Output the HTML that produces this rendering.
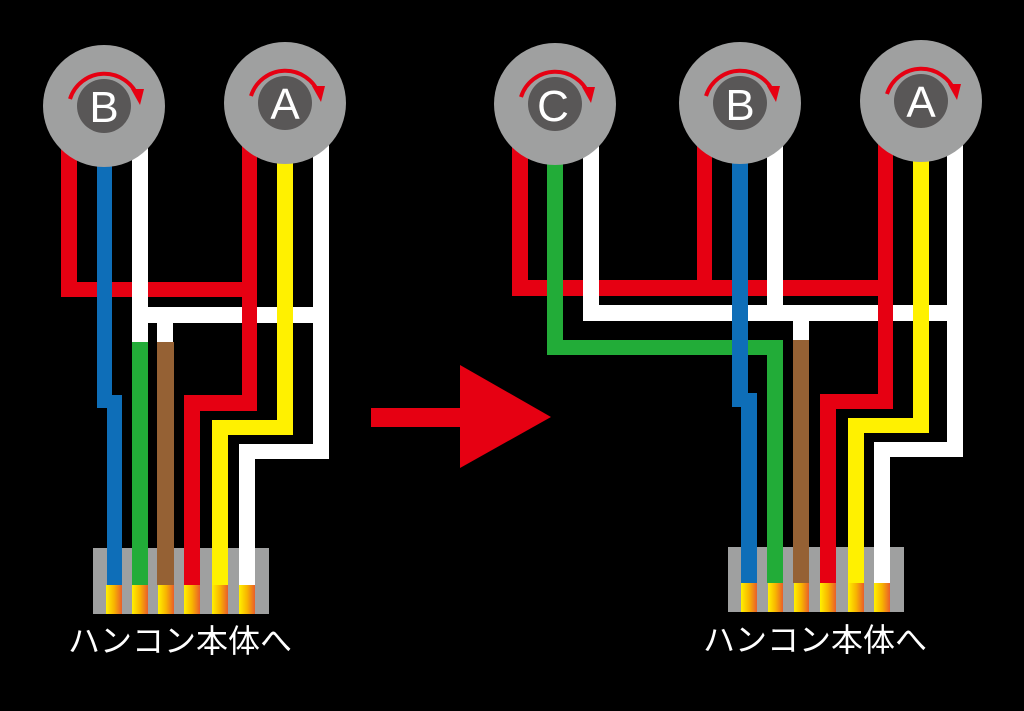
<!DOCTYPE html>
<html><head><meta charset="utf-8"><style>
html,body{margin:0;padding:0;background:#000;}
svg{display:block;}
text{font-family:"Liberation Sans","Noto Sans CJK JP",sans-serif;}
</style></head><body>
<svg width="1024" height="711" viewBox="0 0 1024 711" xmlns="http://www.w3.org/2000/svg">
<defs>
<linearGradient id="pin" x1="0" x2="1" y1="0" y2="0">
<stop offset="0" stop-color="#fff100"/><stop offset="0.5" stop-color="#f8b500"/><stop offset="1" stop-color="#e95e2a"/>
</linearGradient>
<g id="arc">
<path d="M-34,-4 A36,36 0 0 1 34,-6" fill="none" stroke="#e60012" stroke-width="4"/>
<path d="M27,-14 L40,-14 L36,2 Z" fill="#e60012"/>
</g>
</defs>
<rect width="1024" height="711" fill="#000"/>

<!-- connectors (behind wires) -->
<rect x="93" y="548" width="176" height="66" fill="#9fa0a0"/>
<rect x="728" y="547" width="176" height="65" fill="#9fa0a0"/>

<!-- LEFT -->
<g>
<rect x="61" y="282" width="196" height="15" fill="#e60012"/>
<rect x="132" y="307" width="197" height="16" fill="#fff"/>
<rect x="184" y="395" width="73" height="16" fill="#e60012"/>
<rect x="212" y="420" width="81" height="15" fill="#fff100"/>
<rect x="239" y="444" width="90" height="15" fill="#fff"/>
<rect x="61" y="140" width="16" height="157" fill="#e60012"/>
<rect x="132" y="140" width="16" height="202" fill="#fff"/>
<rect x="157" y="315" width="16" height="27" fill="#fff"/>
<rect x="132" y="342" width="16" height="243" fill="#22ac38"/>
<rect x="157" y="342" width="17" height="243" fill="#956134"/>
<rect x="242" y="140" width="15" height="271" fill="#e60012"/>
<rect x="184" y="395" width="16" height="190" fill="#e60012"/>
<rect x="313" y="140" width="16" height="319" fill="#fff"/>
<rect x="239" y="444" width="16" height="141" fill="#fff"/>
<rect x="277" y="140" width="16" height="295" fill="#fff100"/>
<rect x="212" y="420" width="16" height="165" fill="#fff100"/>
<rect x="97" y="150" width="15" height="258" fill="#0e6eb8"/>
<rect x="107" y="395" width="15" height="190" fill="#0e6eb8"/>
<g fill="url(#pin)">
<rect x="106" y="585" width="16" height="29"/><rect x="132" y="585" width="16" height="29"/>
<rect x="158" y="585" width="16" height="29"/><rect x="184" y="585" width="16" height="29"/>
<rect x="212" y="585" width="16" height="29"/><rect x="239" y="585" width="16" height="29"/>
</g>
<text x="180" y="652" fill="#fff" font-size="32" text-anchor="middle">ハンコン本体へ</text>
</g>

<!-- RIGHT -->
<g>
<rect x="512" y="280" width="381" height="16" fill="#e60012"/>
<rect x="583" y="305" width="380" height="16" fill="#fff"/>
<rect x="547" y="340" width="236" height="15" fill="#22ac38"/>
<rect x="820" y="394" width="73" height="15" fill="#e60012"/>
<rect x="848" y="418" width="81" height="15" fill="#fff100"/>
<rect x="874" y="442" width="89" height="15" fill="#fff"/>
<rect x="512" y="140" width="16" height="156" fill="#e60012"/>
<rect x="697" y="140" width="15" height="156" fill="#e60012"/>
<rect x="547" y="150" width="16" height="205" fill="#22ac38"/>
<rect x="583" y="140" width="16" height="181" fill="#fff"/>
<rect x="767" y="140" width="16" height="181" fill="#fff"/>
<rect x="767" y="340" width="16" height="243" fill="#22ac38"/>
<rect x="793" y="321" width="16" height="19" fill="#fff"/>
<rect x="793" y="340" width="16" height="243" fill="#956134"/>
<rect x="878" y="140" width="15" height="269" fill="#e60012"/>
<rect x="820" y="394" width="16" height="189" fill="#e60012"/>
<rect x="947" y="140" width="16" height="317" fill="#fff"/>
<rect x="874" y="442" width="16" height="141" fill="#fff"/>
<rect x="913" y="140" width="16" height="293" fill="#fff100"/>
<rect x="848" y="418" width="16" height="165" fill="#fff100"/>
<rect x="732" y="150" width="16" height="257" fill="#0e6eb8"/>
<rect x="741" y="393" width="16" height="190" fill="#0e6eb8"/>
<g fill="url(#pin)">
<rect x="741" y="583" width="16" height="29"/><rect x="768" y="583" width="15" height="29"/>
<rect x="794" y="583" width="15" height="29"/><rect x="820" y="583" width="16" height="29"/>
<rect x="848" y="583" width="16" height="29"/><rect x="874" y="583" width="16" height="29"/>
</g>
<text x="815" y="651" fill="#fff" font-size="32" text-anchor="middle">ハンコン本体へ</text>
</g>

<!-- arrow -->
<rect x="371" y="408" width="92" height="19" fill="#e60012"/>
<polygon points="460,365 551,417 460,468" fill="#e60012"/>

<!-- knobs -->
<g>
<circle cx="104" cy="106" r="61" fill="#9fa0a0"/><circle cx="104" cy="106" r="27" fill="#595757"/>
<use href="#arc" x="104" y="103"/>
<text x="104" y="122" fill="#fff" font-size="44" text-anchor="middle">B</text>

<circle cx="285" cy="103" r="61" fill="#9fa0a0"/><circle cx="285" cy="103" r="27" fill="#595757"/>
<use href="#arc" x="285" y="100"/>
<text x="285" y="119" fill="#fff" font-size="44" text-anchor="middle">A</text>

<circle cx="555" cy="104" r="61" fill="#9fa0a0"/><circle cx="555" cy="104" r="27" fill="#595757"/>
<use href="#arc" x="555" y="101"/>
<text x="553" y="121" fill="#fff" font-size="44" text-anchor="middle">C</text>

<circle cx="740" cy="103" r="61" fill="#9fa0a0"/><circle cx="740" cy="103" r="27" fill="#595757"/>
<use href="#arc" x="740" y="100"/>
<text x="740" y="120" fill="#fff" font-size="44" text-anchor="middle">B</text>

<circle cx="921" cy="101" r="61" fill="#9fa0a0"/><circle cx="921" cy="101" r="27" fill="#595757"/>
<use href="#arc" x="921" y="98"/>
<text x="921" y="117" fill="#fff" font-size="44" text-anchor="middle">A</text>
</g>
</svg>
</body></html>
